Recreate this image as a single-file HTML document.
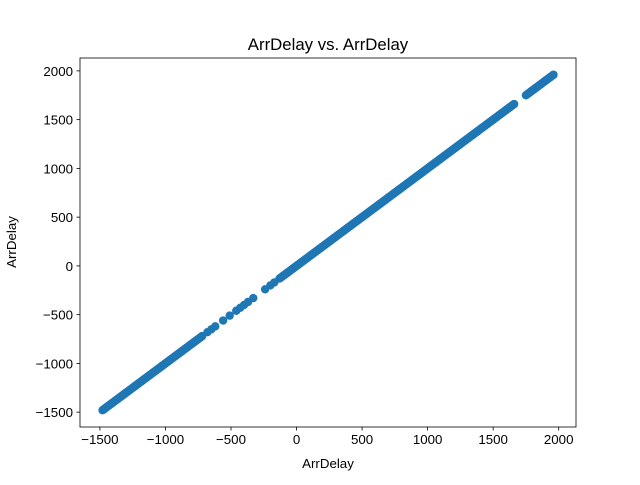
<!DOCTYPE html>
<html><head><meta charset="utf-8"><style>
body{margin:0;background:#fff}
svg text{font-family:"Liberation Sans","DejaVu Sans",sans-serif;fill:#000}
</style></head><body>
<svg id="chart" width="640" height="480" viewBox="0 0 640 480" xmlns="http://www.w3.org/2000/svg">
<rect width="640" height="480" fill="#fff"/>
<text x="328" y="50" font-size="16.8" text-anchor="middle">ArrDelay vs. ArrDelay</text>
<g id="points"></g>
<g id="axes"></g>
<text x="328" y="468" font-size="13.3" text-anchor="middle">ArrDelay</text>
<text transform="translate(16,242) rotate(-90)" font-size="13.3" text-anchor="middle">ArrDelay</text>
</svg>
<script>
const denseRanges = [[-1480,-720],[-130,1660],[1750,1960]];
const sparseValues = [-680,-650,-620,-560,-510,-460,-430,-400,-370,-330,-240,-200,-170];
const xTicks = [-1500,-1000,-500,0,500,1000,1500,2000];
const yTicks = [-1500,-1000,-500,0,500,1000,1500,2000];
const L=80,R=576,T=58,B=427;
const xmin=-1652,xmax=2132,ymin=-1652,ymax=2132;
const xs=v=>L+(v-xmin)/(xmax-xmin)*(R-L);
const ys=v=>B-(v-ymin)/(ymax-ymin)*(B-T);
const NS="http://www.w3.org/2000/svg";
const pg=document.getElementById('points'), ag=document.getElementById('axes');
const vals=[];
denseRanges.forEach(r=>{for(let v=r[0];v<=r[1];v+=6)vals.push(v);vals.push(r[1]);});
sparseValues.forEach(v=>vals.push(v));
vals.forEach(v=>{
  const c=document.createElementNS(NS,'circle');
  c.setAttribute('cx',xs(v));c.setAttribute('cy',ys(v));c.setAttribute('r',4.2);c.setAttribute('fill','#1f77b4');
  
  
  pg.appendChild(c);
});
const fr=document.createElementNS(NS,'rect');
fr.setAttribute('x',L);fr.setAttribute('y',T);fr.setAttribute('width',R-L);fr.setAttribute('height',B-T);
fr.setAttribute('fill','none');fr.setAttribute('stroke','#000');fr.setAttribute('stroke-width','0.8');


ag.appendChild(fr);
xTicks.forEach(t=>{
  const x=xs(t);
  const l=document.createElementNS(NS,'line');
  l.setAttribute('x1',x);l.setAttribute('x2',x);l.setAttribute('y1',B);l.setAttribute('y2',B+3.5);l.setAttribute('stroke','#000');l.setAttribute('stroke-width','0.8');
  
  
  ag.appendChild(l);
  const tx=document.createElementNS(NS,'text');
  tx.setAttribute('x',x);tx.setAttribute('y',B+17);tx.setAttribute('font-size','13.3');tx.setAttribute('text-anchor','middle');
  tx.textContent=t<0?'\u2212'+(-t):String(t);
  
  
  ag.appendChild(tx);
});
yTicks.forEach(t=>{
  const y=ys(t);
  const l=document.createElementNS(NS,'line');
  l.setAttribute('x1',L-3.5);l.setAttribute('x2',L);l.setAttribute('y1',y);l.setAttribute('y2',y);l.setAttribute('stroke','#000');l.setAttribute('stroke-width','0.8');
  
  
  ag.appendChild(l);
  const tx=document.createElementNS(NS,'text');
  tx.setAttribute('x',L-7);tx.setAttribute('y',y+5);tx.setAttribute('font-size','13.3');tx.setAttribute('text-anchor','end');
  tx.textContent=t<0?'\u2212'+(-t):String(t);
  
  
  ag.appendChild(tx);
});
</script>
</body></html>
